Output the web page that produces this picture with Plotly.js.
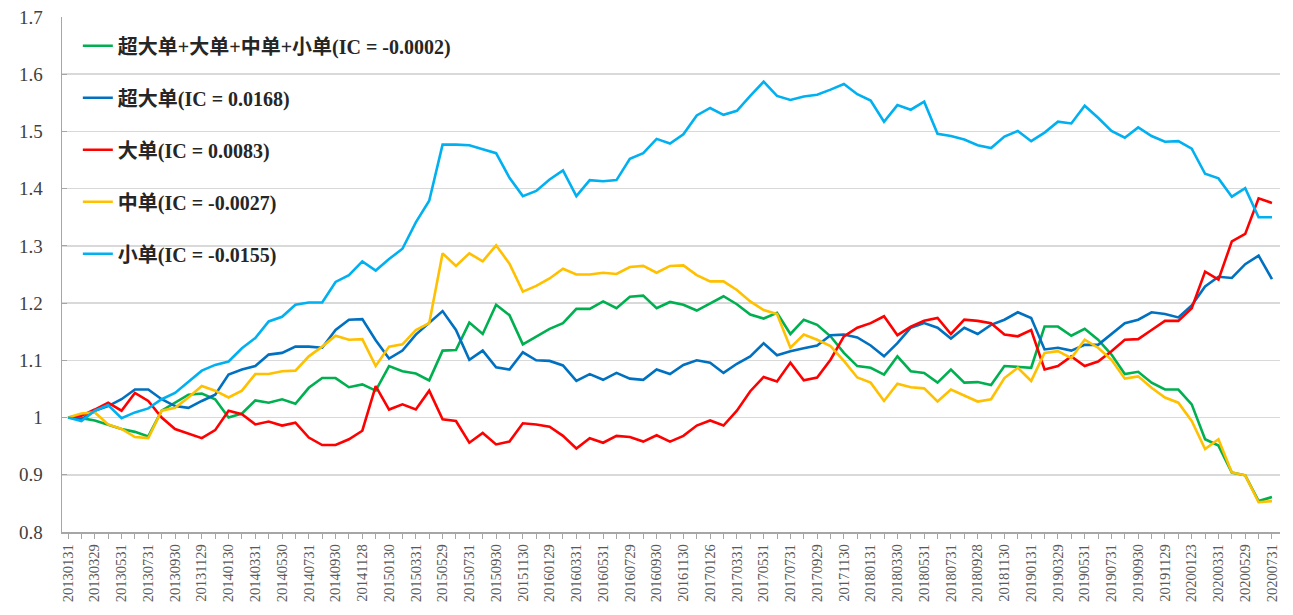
<!DOCTYPE html>
<html>
<head>
<meta charset="utf-8">
<script src="https://cdn.plot.ly/plotly-3.0.1.min.js"></script>
<style>html,body{margin:0;padding:0;background:#fff;}#chart{width:1293px;height:615px;}</style>
</head>
<body>
<div id="chart"></div>
<script>
const dates = [
"20130131","20130228","20130329","20130426","20130531","20130628","20130731","20130830","20130930","20131031","20131129","20131231",
"20140130","20140228","20140331","20140430","20140530","20140630","20140731","20140829","20140930","20141031","20141128","20141231",
"20150130","20150227","20150331","20150430","20150529","20150630","20150731","20150831","20150930","20151030","20151130","20151231",
"20160129","20160229","20160331","20160429","20160531","20160630","20160729","20160831","20160930","20161031","20161130","20161230",
"20170126","20170228","20170331","20170428","20170531","20170630","20170731","20170831","20170929","20171031","20171130","20171229",
"20180131","20180228","20180330","20180427","20180531","20180629","20180731","20180831","20180928","20181031","20181130","20181228",
"20190131","20190228","20190329","20190430","20190531","20190628","20190731","20190830","20190930","20191031","20191129","20191231",
"20200123","20200228","20200331","20200430","20200529","20200630","20200731"];

const seriesNames = [
"超大单+大单+中单+小单(IC = -0.0002)",
"超大单(IC = 0.0168)",
"大单(IC = 0.0083)",
"中单(IC = -0.0027)",
"小单(IC = -0.0155)"];

const allOrders = [
1.0,0.999,0.995,0.988,0.98,0.975,0.967,1.012,1.026,1.04,1.042,1.032,1.0,1.007,1.03,1.026,1.032,1.024,1.052,1.069,1.069,1.053,1.058,1.047,
1.09,1.081,1.077,1.065,1.117,1.118,1.166,1.146,1.197,1.179,1.128,1.142,1.155,1.165,1.19,1.19,1.203,1.191,1.211,1.213,1.191,1.202,1.197,
1.187,1.2,1.212,1.198,1.18,1.173,1.183,1.146,1.171,1.162,1.142,1.113,1.09,1.087,1.075,1.107,1.081,1.078,1.061,1.084,1.061,1.062,1.057,
1.09,1.088,1.087,1.159,1.159,1.143,1.155,1.136,1.11,1.076,1.08,1.061,1.049,1.049,1.023,0.962,0.951,0.904,0.899,0.854,0.861];

const extraLarge = [
1.0,0.997,1.012,1.02,1.032,1.049,1.049,1.032,1.02,1.017,1.029,1.04,1.075,1.084,1.09,1.11,1.113,1.124,1.124,1.122,1.153,1.171,1.172,1.135,
1.103,1.117,1.145,1.165,1.186,1.153,1.101,1.117,1.088,1.084,1.114,1.1,1.099,1.091,1.064,1.076,1.066,1.078,1.068,1.066,1.084,1.076,1.092,
1.1,1.096,1.078,1.094,1.107,1.13,1.109,1.116,1.121,1.126,1.144,1.145,1.14,1.126,1.107,1.13,1.157,1.165,1.157,1.138,1.157,1.146,1.162,
1.171,1.184,1.174,1.119,1.122,1.117,1.127,1.127,1.146,1.165,1.171,1.184,1.181,1.175,1.196,1.229,1.246,1.244,1.268,1.283,1.242];

const large = [
1.0,1.003,1.014,1.026,1.012,1.043,1.029,1.0,0.98,0.972,0.964,0.978,1.012,1.006,0.988,0.993,0.986,0.991,0.965,0.952,0.952,0.962,0.977,1.055,
1.014,1.023,1.014,1.047,0.997,0.994,0.956,0.973,0.953,0.958,0.99,0.988,0.984,0.968,0.946,0.964,0.956,0.968,0.966,0.958,0.969,0.958,0.968,
0.986,0.995,0.986,1.012,1.046,1.071,1.063,1.096,1.065,1.07,1.101,1.142,1.157,1.165,1.177,1.144,1.159,1.169,1.174,1.146,1.171,1.169,1.165,
1.145,1.142,1.153,1.084,1.09,1.107,1.09,1.098,1.116,1.136,1.137,1.153,1.169,1.169,1.191,1.255,1.241,1.308,1.321,1.383,1.375];

const medium = [
1.0,1.007,1.009,0.988,0.98,0.966,0.964,1.012,1.017,1.035,1.055,1.047,1.035,1.047,1.076,1.076,1.081,1.082,1.107,1.124,1.143,1.136,1.137,1.09,
1.124,1.128,1.153,1.165,1.287,1.265,1.287,1.273,1.301,1.269,1.22,1.23,1.243,1.26,1.25,1.25,1.253,1.251,1.263,1.265,1.253,1.265,1.266,
1.249,1.238,1.238,1.223,1.203,1.188,1.181,1.122,1.145,1.136,1.125,1.099,1.07,1.061,1.029,1.059,1.053,1.051,1.028,1.049,1.038,1.028,1.032,
1.069,1.087,1.064,1.113,1.116,1.104,1.136,1.122,1.101,1.068,1.072,1.052,1.035,1.026,0.994,0.945,0.962,0.904,0.899,0.852,0.854];

const small = [
1.0,0.994,1.012,1.022,0.999,1.009,1.016,1.032,1.043,1.062,1.082,1.092,1.098,1.121,1.139,1.168,1.176,1.197,1.201,1.201,1.237,1.249,1.273,1.257,
1.277,1.295,1.341,1.379,1.477,1.477,1.476,1.469,1.462,1.419,1.387,1.396,1.416,1.432,1.387,1.415,1.413,1.415,1.452,1.462,1.487,1.479,1.495,
1.528,1.541,1.529,1.536,1.562,1.587,1.562,1.555,1.561,1.564,1.573,1.583,1.565,1.554,1.517,1.546,1.538,1.552,1.496,1.492,1.486,1.476,1.471,
1.491,1.501,1.483,1.498,1.517,1.514,1.545,1.524,1.501,1.489,1.507,1.492,1.482,1.483,1.47,1.426,1.418,1.386,1.401,1.35,1.35];

const yTickVals = [0.8,0.9,1.0,1.1,1.2,1.3,1.4,1.5,1.6,1.7];
const yTickText = ["0.8","0.9","1","1.1","1.2","1.3","1.4","1.5","1.6","1.7"];
// label shown on every other month
const xTickText = dates.map((d,i)=> i%2===0 ? d : "");

const colors = ["#00B050","#0070C0","#FF0000","#FFC000","#00B0F0"];
const seriesData = [allOrders, extraLarge, large, medium, small];

const SERIF = "'Liberation Serif', 'Times New Roman', Times, serif";

const traces = seriesData.map((ys,k)=>({
  type:"scatter", mode:"lines", x:dates, y:ys, name:seriesNames[k],
  legendgroup:"g"+k,
  line:{color:colors[k], width:2.6}
}));

const layout = {
  width:1293, height:615,
  margin:{l:62, r:13, t:17, b:83},
  paper_bgcolor:"#fff", plot_bgcolor:"#fff",
  showlegend:true,
  legend:{
    x:0.013, y:0.982, xanchor:"left", yanchor:"top",
    bgcolor:"rgba(255,255,255,0)",
    traceorder:"grouped", tracegroupgap:23,
    font:{family:"'Liberation Serif', 'Noto Sans CJK SC', serif", size:20, color:"#262626", weight:"bold"}
  },
  xaxis:{
    type:"category", range:[-0.45, 90.6],
    tickmode:"array", tickvals:dates, ticktext:xTickText,
    tickangle:-90,
    ticks:"outside", ticklen:5, tickcolor:"#a6a6a6",
    showline:true, linecolor:"#a6a6a6", linewidth:1.5,
    showgrid:false, zeroline:false,
    tickfont:{family:SERIF, size:14.5, color:"#595959"}
  },
  yaxis:{
    range:[0.8,1.7], tickmode:"array", tickvals:yTickVals, ticktext:yTickText,
    ticks:"inside", ticklen:5, tickcolor:"#a6a6a6",
    showline:true, linecolor:"#a6a6a6", linewidth:1.5,
    showgrid:true, gridcolor:"#d9d9d9", gridwidth:1.5, zeroline:false,
    ticklabelstandoff:14,
    tickfont:{family:SERIF, size:19, color:"#404040"}
  }
};

Plotly.newPlot("chart", traces, layout, {displayModeBar:false, staticPlot:true});
</script>
</body>
</html>
